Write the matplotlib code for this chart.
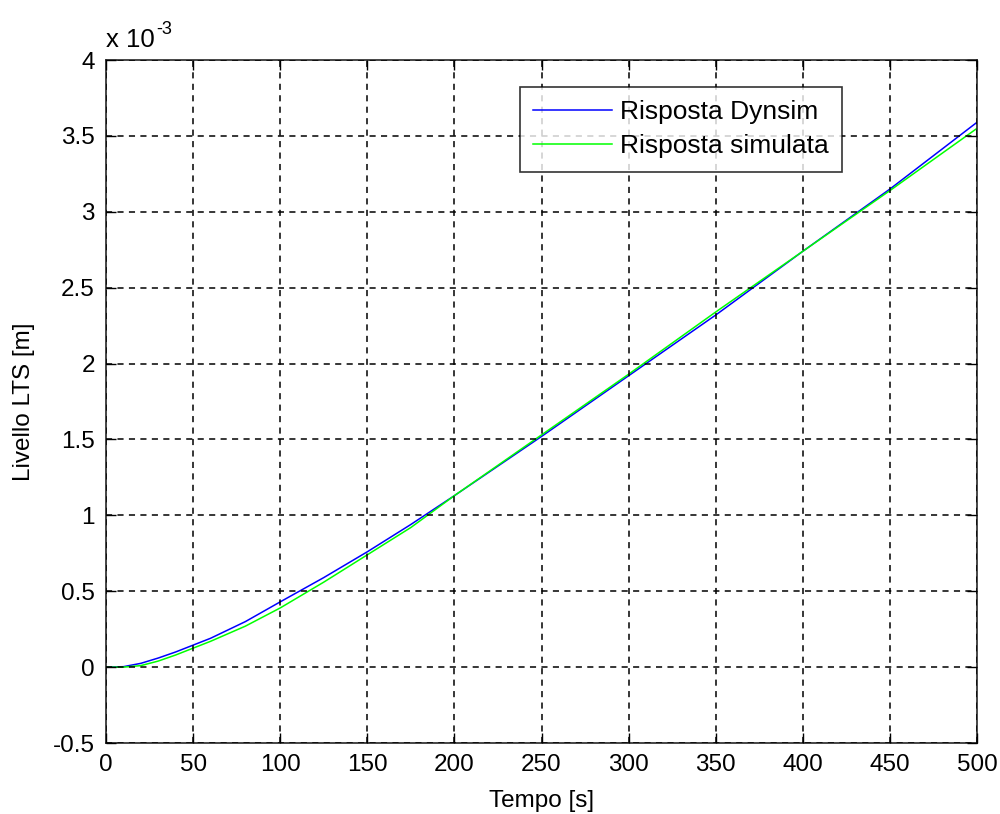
import matplotlib
matplotlib.use("Agg")
import matplotlib.pyplot as plt
from matplotlib.ticker import FuncFormatter

plt.rcParams['font.family'] = ['Liberation Sans', 'DejaVu Sans']

# time [s]
t = [0, 10, 20, 30, 40, 50, 60, 80, 100, 125, 150, 175, 200, 250, 300, 350, 400, 450, 500]
# level, units of 1e-3 m
dynsim = [0, 0.003, 0.025, 0.06, 0.10, 0.145, 0.19, 0.30, 0.43, 0.59, 0.76, 0.94, 1.13,
          1.52, 1.92, 2.32, 2.74, 3.15, 3.59]
simulata = [0, 0.0, 0.01, 0.04, 0.08, 0.125, 0.17, 0.27, 0.39, 0.56, 0.74, 0.92, 1.13,
            1.53, 1.93, 2.34, 2.74, 3.14, 3.55]

xticks = [0, 50, 100, 150, 200, 250, 300, 350, 400, 450, 500]
yticks = [-0.5, 0, 0.5, 1, 1.5, 2, 2.5, 3, 3.5, 4]

fs = 17.5
fig = plt.figure(figsize=(10, 8.14), dpi=100)
ax = fig.add_axes([0.106, 0.0872, 0.871, 0.839])

ax.plot(t, dynsim, color=(0, 0, 1), lw=1.1, label='Risposta Dynsim')
ax.plot(t, simulata, color=(0, 1, 0), lw=1.1, label='Risposta simulata')

ax.set_xlim(0, 500)
ax.set_ylim(-0.5, 4)
ax.set_xticks(xticks)
ax.set_yticks(yticks)
ax.yaxis.set_major_formatter(FuncFormatter(lambda v, p: '%g' % v))
ax.xaxis.set_major_formatter(FuncFormatter(lambda v, p: '%g' % v))
ax.grid(True, color='black', linestyle=(0, (4, 3.5)), linewidth=1.1)
ax.set_axisbelow(False)
ax.tick_params(direction='in', length=7, width=1, top=True, right=True,
               labelsize=fs, pad=8)
for s in ax.spines.values():
    s.set_linewidth(1.2)
    s.set_color('#262626')

ax.set_xlabel('Tempo [s]', fontsize=fs, labelpad=10)
ax.set_ylabel('Livello LTS [m]', fontsize=fs, labelpad=13)

ax.text(0.0, 1.012, 'x 10', transform=ax.transAxes, fontsize=18.5, ha='left', va='bottom')
ax.text(0.058, 1.033, '-3', transform=ax.transAxes, fontsize=13, ha='left', va='bottom')

leg = ax.legend(loc='upper right', bbox_to_anchor=(0.845, 0.961), borderaxespad=0,
                fontsize=19, frameon=True, fancybox=False, edgecolor='black',
                handlelength=3.0, handletextpad=0.3, borderpad=0.5, labelspacing=0.4)
leg.get_frame().set_linewidth(1.2)

fig.savefig('out.png', dpi=100, facecolor='white')
